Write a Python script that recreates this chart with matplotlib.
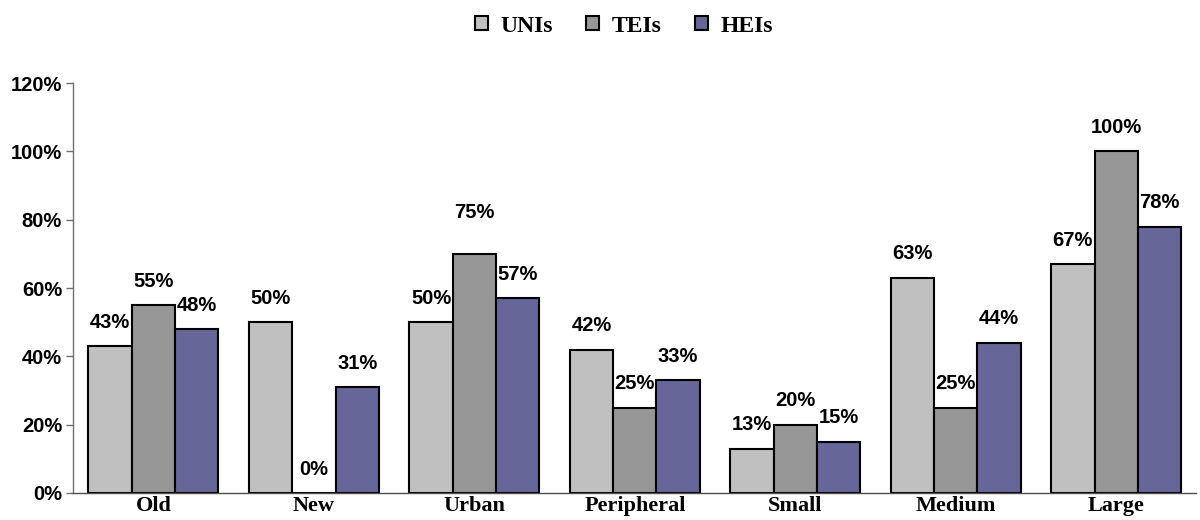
import numpy as np
import matplotlib.pyplot as plt
from matplotlib.ticker import PercentFormatter

categories = ['Old', 'New', 'Urban', 'Peripheral', 'Small', 'Medium', 'Large']
series_names = ['UNIs', 'TEIs', 'HEIs']
# bar heights (%) as drawn
unis = [43, 50, 50, 42, 13, 63, 67]
teis = [55, 0, 70, 25, 20, 25, 100]
heis = [48, 31, 57, 33, 15, 44, 78]
# data labels as printed (Urban TEIs label differs from its bar)
unis_lbl = [43, 50, 50, 42, 13, 63, 67]
teis_lbl = [55, 0, 75, 25, 20, 25, 100]
heis_lbl = [48, 31, 57, 33, 15, 44, 78]
yticks = [0, 20, 40, 60, 80, 100, 120]

colors = ['#C0C0C0', '#969696', '#666699']
sans = ['Liberation Sans', 'DejaVu Sans']
serif = ['Liberation Serif', 'DejaVu Serif']

fig = plt.figure(figsize=(12, 5.2), dpi=100)
ax = fig.add_axes([0.061, 0.052, 0.936, 0.788])

x = np.arange(len(categories))
w = 0.27
handles = []
for i, (vals, lbls) in enumerate(zip([unis, teis, heis], [unis_lbl, teis_lbl, heis_lbl])):
    pos = x + (i - 1) * w
    b = ax.bar(pos, vals, width=w, color=colors[i], edgecolor='black', linewidth=1.5,
               label=series_names[i], zorder=2)
    handles.append(b)
    for px, lv in zip(pos, lbls):
        ax.text(px, lv + 7, f'{lv}%', ha='center', va='center', fontsize=14.5,
                fontweight='bold', family=sans, zorder=3)

ax.set_xlim(-0.5, len(categories) - 0.5)
ax.set_ylim(0, 120)
ax.set_yticks(yticks)
ax.yaxis.set_major_formatter(PercentFormatter(decimals=0))
ax.set_xticks(x)
ax.set_xticklabels(categories, fontsize=16, fontweight='bold', family=serif)
ax.tick_params(axis='x', length=0, pad=2)
ax.tick_params(axis='y', length=5, width=1, color='#707070', pad=3)
for lab in ax.get_yticklabels():
    lab.set_fontsize(14.5)
    lab.set_fontweight('bold')
    lab.set_family(sans)

ax.spines['top'].set_visible(False)
ax.spines['right'].set_visible(False)
ax.spines['left'].set_color('#707070')
ax.spines['bottom'].set_color('#505050')
ax.spines['left'].set_linewidth(1)
ax.spines['bottom'].set_linewidth(1)

fig.legend(handles=handles, labels=series_names, loc='center', bbox_to_anchor=(0.52, 0.95),
           ncol=3, frameon=False, handlelength=0.55, handleheight=0.55, handletextpad=0.55,
           columnspacing=1.4, prop={'family': serif, 'weight': 'bold', 'size': 17})

fig.savefig('out.png', dpi=100)
